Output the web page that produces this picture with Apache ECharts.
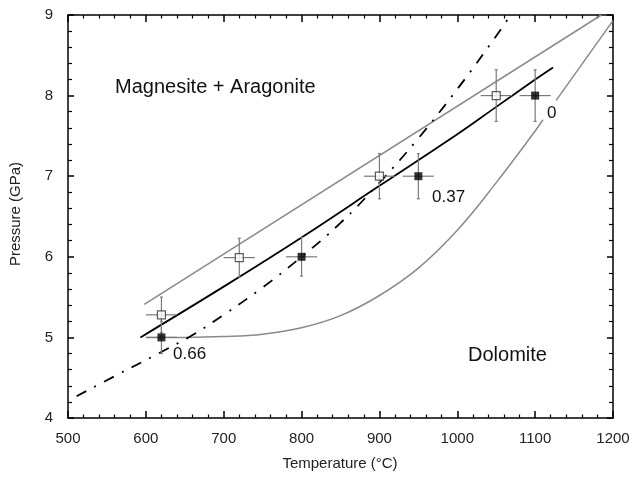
<!DOCTYPE html>
<html lang="en">

<head>
    <meta charset="UTF-8">
    <title>Dolomite stability</title>
    <style>
        body {
            margin: 0;
            background: #fff;
        }

        #box {
            width: 633px;
            height: 478px;
        }
    </style>
    <script src="https://cdn.jsdelivr.net/npm/echarts@6/dist/echarts.min.js"></script>
</head>

<body>
    <div id="box"></div>

    <script>
        // experiment points: open = reversal, filled = synthesis
        var openT = [620, 720, 900, 1050];
        var openP = [5.28, 5.99, 7.0, 8.0];
        var openPErr = [0.22, 0.24, 0.28, 0.32];
        var fillT = [620, 800, 950, 1100];
        var fillP = [5.0, 6.0, 7.0, 8.0];
        var fillPErr = [0.2, 0.24, 0.28, 0.32];
        var tErr = [20, 20, 20, 20];

        // fitted boundary (black)
        var fitT = [593, 700, 800, 900, 1000, 1050, 1100, 1123];
        var fitP = [5.0, 5.63, 6.24, 6.88, 7.52, 7.86, 8.2, 8.35];

        // dash-dot reference line
        var dashT = [511, 560, 618, 660, 700, 750, 800, 850, 900, 950, 1000, 1050, 1072];
        var dashP = [4.27, 4.52, 4.81, 5.03, 5.28, 5.62, 6.0, 6.42, 6.92, 7.47, 8.08, 8.74, 9.05];

        // grey envelope
        var upperT = [598, 1185];
        var upperP = [5.41, 9.0];
        var lowerT = [600, 650, 700, 750, 800, 850, 900, 950, 1000, 1050, 1100, 1110];
        var lowerP = [5.0, 5.0, 5.01, 5.04, 5.12, 5.27, 5.52, 5.86, 6.33, 6.92, 7.56, 7.7];
        var lowerT2 = [1127, 1200];
        var lowerP2 = [7.94, 8.93];

        var xTicks = [500, 1200, 100];
        var yTicks = [4, 9, 1];

        var font = "'Liberation Sans', Arial, Helvetica, sans-serif";

        function pairs(xs, ys) {
            return xs.map(function (x, i) { return [x, ys[i]]; });
        }

        function errData(ts, ps, pe) {
            return ts.map(function (t, i) { return [t, ps[i], pe[i], tErr[i]]; });
        }

        function renderErr(params, api) {
            var t = api.value(0), p = api.value(1), dp = api.value(2), dt = api.value(3);
            var l = api.coord([t - dt, p]), r = api.coord([t + dt, p]);
            var top = api.coord([t, p + dp]), bot = api.coord([t, p - dp]);
            var st = { stroke: '#7a7a7a', lineWidth: 1.2 };
            var c = 1.5;
            return {
                type: 'group',
                children: [
                    { type: 'line', shape: { x1: l[0], y1: l[1], x2: r[0], y2: r[1] }, style: st },
                    { type: 'line', shape: { x1: top[0], y1: top[1], x2: bot[0], y2: bot[1] }, style: st },
                    { type: 'line', shape: { x1: top[0] - c, y1: top[1], x2: top[0] + c, y2: top[1] }, style: st },
                    { type: 'line', shape: { x1: bot[0] - c, y1: bot[1], x2: bot[0] + c, y2: bot[1] }, style: st }
                ]
            };
        }

        function axis(pos, range, showLabel) {
            var isX = pos === 'bottom' || pos === 'top';
            return {
                type: 'value',
                position: pos,
                min: range[0],
                max: range[1],
                interval: range[2],
                axisLine: { show: true, lineStyle: { color: '#000', width: 1.5 } },
                axisTick: { show: true, inside: true, length: isX ? 7 : 6, lineStyle: { color: '#000', width: 1.5 } },
                minorTick: { show: true, splitNumber: 5, length: isX ? 3.5 : 4, lineStyle: { color: '#000', width: 1.2 } },
                splitLine: { show: false },
                axisLabel: {
                    show: showLabel, fontSize: 15, color: '#222', fontFamily: font, margin: isX ? 13 : 15,
                    formatter: function (v) { return String(v); }
                }
            };
        }

        var myChart = echarts.init(document.getElementById('box'));
        var grey = { color: '#8a8a8a', width: 1.5 };

        myChart.setOption({
            animation: false,
            grid: { left: 68, right: 20, top: 15, bottom: 60 },
            xAxis: [axis('bottom', xTicks, true), axis('top', xTicks, false)],
            yAxis: [axis('left', yTicks, true), axis('right', yTicks, false)],
            series: [
                { type: 'line', data: pairs(upperT, upperP), symbol: 'none', lineStyle: grey, z: 2 },
                { type: 'line', data: pairs(lowerT, lowerP), symbol: 'none', smooth: 0.4, lineStyle: grey, z: 2 },
                { type: 'line', data: pairs(lowerT2, lowerP2), symbol: 'none', lineStyle: grey, z: 2 },
                {
                    type: 'line', data: pairs(dashT, dashP), symbol: 'none', smooth: 0.4, z: 3,
                    lineStyle: { color: '#000', width: 1.8, type: [11, 9, 2, 9] }
                },
                {
                    type: 'line', data: pairs(fitT, fitP), symbol: 'none', smooth: 0.4, z: 3,
                    lineStyle: { color: '#000', width: 1.8 }
                },
                { type: 'custom', renderItem: renderErr, data: errData(openT, openP, openPErr), z: 4 },
                { type: 'custom', renderItem: renderErr, data: errData(fillT, fillP, fillPErr), z: 4 },
                {
                    type: 'scatter', data: pairs(openT, openP), symbol: 'rect', symbolSize: 8, z: 5,
                    itemStyle: { color: '#fff', borderColor: '#333', borderWidth: 1.2 }
                },
                {
                    type: 'scatter', data: pairs(fillT, fillP), symbol: 'rect', symbolSize: 8, z: 5,
                    itemStyle: { color: '#000' }
                }
            ],
            graphic: [
                {
                    type: 'text', x: 340, y: 464,
                    style: { text: 'Temperature (°C)', font: '15px ' + font, fill: '#222', align: 'center', verticalAlign: 'middle', textAlign: 'center', textVerticalAlign: 'middle' }
                },
                {
                    type: 'text', x: 16, y: 214, rotation: Math.PI / 2,
                    style: { text: 'Pressure (GPa)', font: '15px ' + font, fill: '#222', align: 'center', verticalAlign: 'middle', textAlign: 'center', textVerticalAlign: 'middle' }
                },
                { type: 'text', left: 115, top: 77, style: { text: 'Magnesite + Aragonite', font: '20px ' + font, fill: '#111' } },
                { type: 'text', left: 468, top: 345, style: { text: 'Dolomite', font: '20px ' + font, fill: '#111' } },
                { type: 'text', left: 173, top: 346, style: { text: '0.66', font: '17px ' + font, fill: '#111' } },
                { type: 'text', left: 432, top: 189, style: { text: '0.37', font: '17px ' + font, fill: '#111' } },
                { type: 'text', left: 547, top: 105, style: { text: '0', font: '17px ' + font, fill: '#111' } }
            ]
        });

        window.onresize = function () {
            myChart.resize();
        }
    </script>
</body>

</html>
